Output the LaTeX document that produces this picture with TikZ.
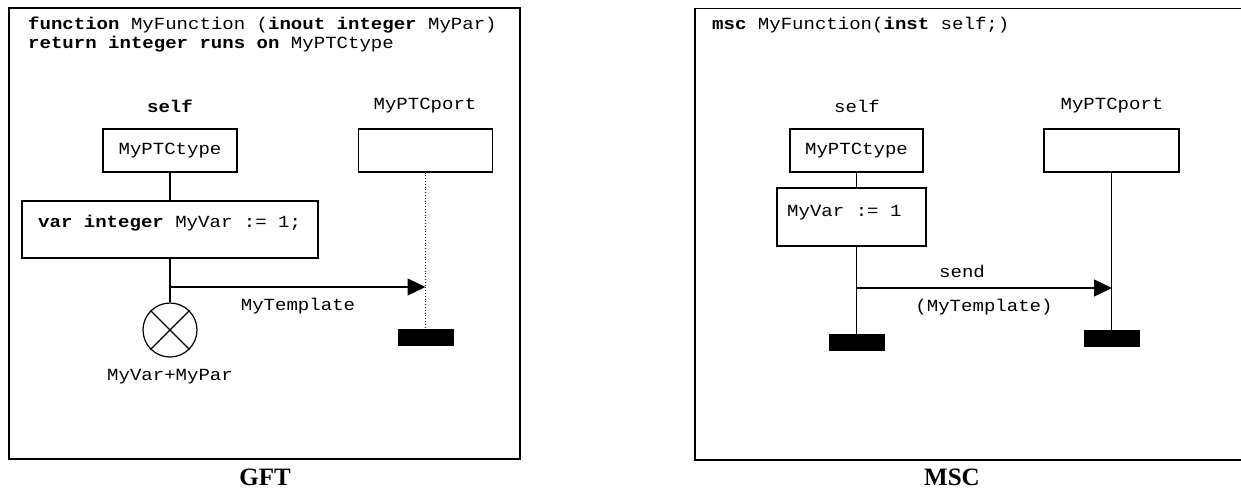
\documentclass[tikz,border=0pt]{standalone}
\usepackage{fontspec}
\setmainfont{Liberation Mono}[FakeStretch=1.12]
\newfontfamily\capfont{Liberation Serif}
\usetikzlibrary{arrows.meta}
\begin{document}
\begin{tikzpicture}[x=1pt,y=-1pt,
  every node/.style={inner sep=0pt, font=\fontsize{17}{19}\selectfont},
  frame/.style={draw, line width=1.6pt},
  ln/.style={line width=1.2pt},
  box/.style={draw, line width=1.2pt, rectangle},
  stopbar/.style={fill=black, draw=black, rectangle, minimum width=55pt, minimum height=16pt},
  msg/.style={line width=1.2pt, -{Triangle[length=18pt,width=17pt]}},
  caption/.style={font=\capfont\bfseries\fontsize{25}{28}\selectfont}
]
\useasboundingbox (0,0) rectangle (1241,488);
% ---------- GFT ----------
\draw[frame] (9,8) rectangle (520,459);
\node[anchor=base west] (gfthead1) at (28,29) {\textbf{function} MyFunction (\textbf{inout integer} MyPar)};
\node[anchor=base west] (gfthead2) at (28,48) {\textbf{return integer runs on} MyPTCtype};
\node (gself) at (170,106) {\textbf{self}};
\node (gport) at (425,106) {MyPTCport};
\node[box, minimum width=134pt, minimum height=43pt] (gtype) at (170,150.5) {MyPTCtype};
\node[box, minimum width=134pt, minimum height=43pt] (gportbox) at (425.5,150.5) {};
\node[box, minimum width=296pt, minimum height=57pt] (gvar) at (170,229.5) {};
\node[anchor=west] (gvartext) at (38,223) {\textbf{var integer} MyVar := 1;};
\node[draw, circle, line width=1.2pt, minimum size=54pt] (gcirc) at (170,330) {};
\draw[ln] (gcirc.45) -- (gcirc.225);
\draw[ln] (gcirc.135) -- (gcirc.315);
\node (gcirclabel) at (170,377) {MyVar+MyPar};
\node[stopbar] (gstop) at (425.5,337) {};
\coordinate (gsrc) at (170,287);
\coordinate (gdst) at (425.5,287);
\draw[ln] (gtype.south) -- (gvar.north);
\draw[ln] (gvar.south) -- (gcirc.north);
\draw[line width=0.8pt, dotted] (gportbox.south) -- (gstop.north);
\draw[msg] (gsrc) -- (gdst);
\node (gmsglabel) at (298,306) {MyTemplate};
\node[caption, anchor=base] (gftcap) at (265,485) {GFT};
% ---------- MSC ----------
\draw[frame] (695,8.5) rectangle (1250,460);
\node[anchor=west] (mhead) at (712,25) {\textbf{msc} MyFunction(\textbf{inst} self;)};
\node (mself) at (857,106) {self};
\node (mport) at (1112,106) {MyPTCport};
\node[box, minimum width=133pt, minimum height=43pt] (mtype) at (856.5,150.5) {MyPTCtype};
\node[box, minimum width=135pt, minimum height=43pt] (mportbox) at (1111.5,150.5) {};
\node[box, minimum width=149pt, minimum height=58pt] (mvar) at (851.5,217) {};
\node[anchor=west] (mvartext) at (787,213) {MyVar := 1};
\node[stopbar] (mstop1) at (856.5,342.5) {};
\node[stopbar] (mstop2) at (1111.5,338) {};
\coordinate (msrc) at (856.5,288);
\coordinate (mdst) at (1112,288);
\draw[ln] (mtype.south) -- (856.5,188);
\draw[ln] (856.5,246) -- (mstop1.north);
\draw[ln] (mportbox.south) -- (mstop2.north);
\draw[msg] (msrc) -- (mdst);
\node (msend) at (962,271) {send};
\node (mmsglabel) at (984,307) {(MyTemplate)};
\node[caption, anchor=base] (msccap) at (952,485) {MSC};
\end{tikzpicture}
\end{document}
